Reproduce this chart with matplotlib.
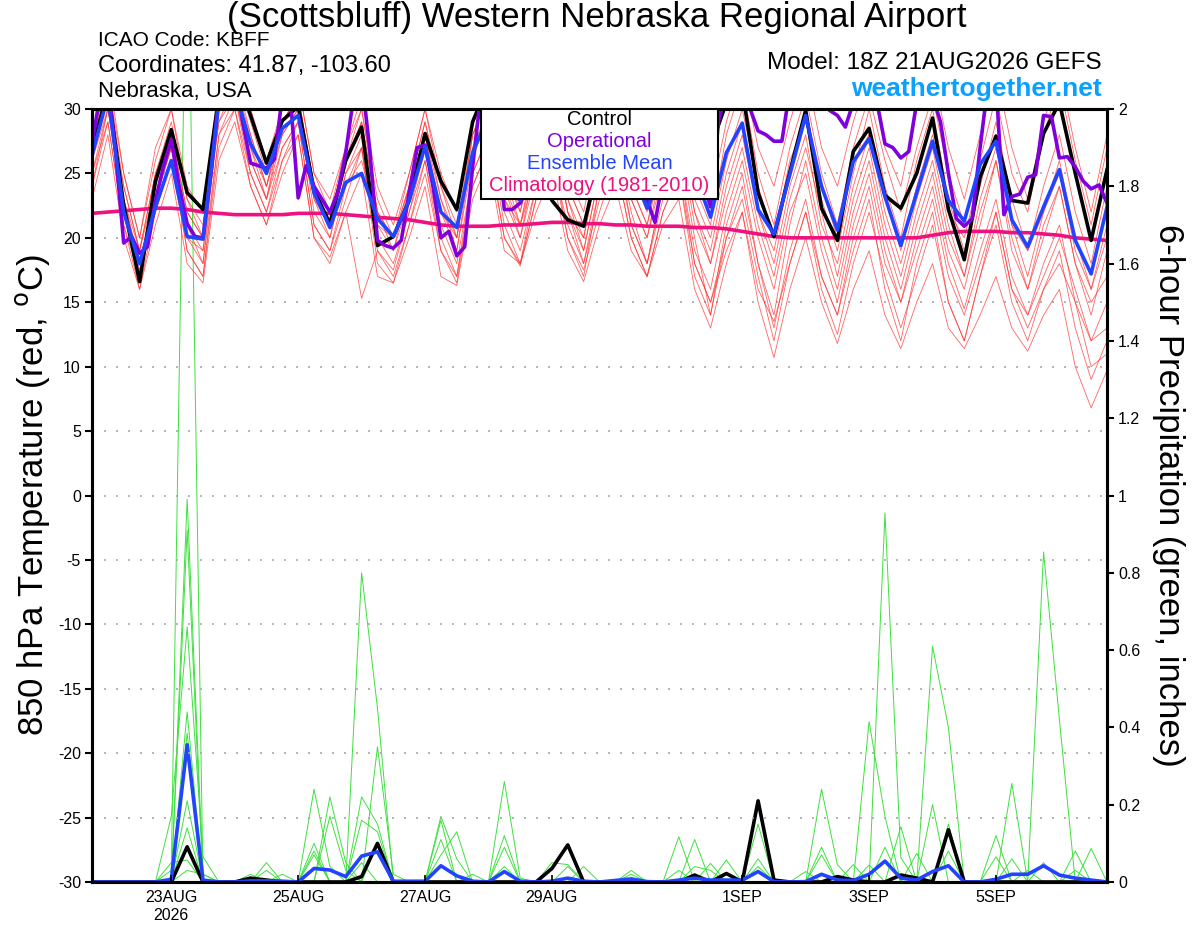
import numpy as np
import pandas as pd
import matplotlib
matplotlib.use("Agg")
import matplotlib.pyplot as plt
from matplotlib.patches import Rectangle

plt.rcParams['font.family'] = ['Liberation Sans', 'DejaVu Sans']
plt.rcParams['axes.unicode_minus'] = False

# 6-hourly forecast steps from the 18Z 21AUG2026 run
times = pd.date_range('2026-08-21 18:00', periods=65, freq='6h')
# operational run is plotted every 3 hours
times_op = pd.date_range('2026-08-21 18:00', periods=129, freq='3h')

tick_dates = ['2026-08-23', '2026-08-25', '2026-08-27', '2026-08-29',
              '2026-09-01', '2026-09-03', '2026-09-05']
tick_labels = ['23AUG\n2026', '25AUG', '27AUG', '29AUG', '1SEP', '3SEP', '5SEP']

# 850 hPa temperature (C)
control = [26.8, 31.5, 22.5, 16.6, 24.4, 28.4, 23.5, 22.2,
           31, 33, 29.5, 25.8, 29.1, 30.2, 23.7, 21.1,
           26.0, 28.6, 19.4, 20.1, 22.9, 28.1, 24.4, 22.2,
           29, 32, 29, 24.5, 26, 22.9, 21.4, 20.9,
           26, 30, 28, 26, 28, 31, 30, 27,
           30.5, 31.5, 23.5, 20.1, 25.1, 29.9, 22.3, 19.8,
           26.7, 28.5, 23.3, 22.3, 25.0, 29.3, 22.2, 18.3,
           24.7, 27.9, 22.9, 22.7, 28.1, 30.5, 25.0, 19.8,
           25.3]

ens_mean = [26.4, 31, 22, 18.0, 22.4, 26.0, 20.1, 19.9,
            30.5, 31.5, 27.3, 25.0, 28.5, 29.5, 23.5, 20.8,
            24.3, 25.0, 21.5, 20.1, 22.9, 27.1, 22.0, 20.8,
            26.6, 29.5, 24, 22.9, 26, 27.5, 25, 23.5,
            26, 28, 25.5, 22.3, 25, 27.5, 25, 21.6,
            26.6, 28.9, 22.2, 20.3, 24.9, 29.5, 24.0, 20.6,
            25.9, 27.7, 23.2, 19.4, 23.5, 27.5, 22.9, 21.3,
            25.7, 27.5, 21.4, 19.3, 22.4, 25.3, 19.8, 17.2,
            22.4]

operational = [27.3, 31, 32, 26.5, 19.6, 20.1, 18.8, 19.3,
               22.9, 25.5, 27.6, 24.0, 21.1, 20.1, 20.0, 25.0,
               31, 32, 33, 29, 25.8, 25.6, 25.4, 26.1,
               31, 31, 23.1, 25.6, 24.0, 23.0, 22.0, 23.5,
               26.6, 31, 32.5, 27, 19.8, 19.4, 19.2, 19.8,
               23.5, 27.0, 27.2, 24.0, 20.0, 20.5, 18.6, 19.3,
               25.5, 31, 32, 28, 22.2, 22.2, 22.7, 24,
               26, 28, 30, 29, 26, 25, 24.5, 25.5,
               28, 30, 31, 30, 27, 24.5, 22.9, 21.2,
               24.5, 28, 30, 29, 27, 24.5, 22.4, 29,
               31.5, 32, 31.5, 30, 28.3, 28, 27.5, 27.5,
               31.5, 32, 32.5, 32, 31, 29.9, 29.5, 28.6,
               30.5, 32, 32, 30.5, 27.3, 27.0, 26.2, 26.7,
               30.5, 32, 31, 29, 25, 21.5, 20.9, 21.5,
               27, 32, 32, 21.8, 23.2, 23.4, 24.7, 24.9,
               29.5, 29.4, 26.2, 26.3, 25.5, 24.4, 23.8, 24.1,
               22.7]

climatology = [21.9, 22.0, 22.1, 22.2, 22.3, 22.3, 22.2, 22.0,
               21.9, 21.8, 21.8, 21.8, 21.8, 21.9, 21.9, 21.9,
               21.8, 21.7, 21.6, 21.5, 21.4, 21.2, 21.0, 20.9,
               20.9, 20.9, 21.0, 21.0, 21.1, 21.2, 21.2, 21.1,
               21.1, 21.0, 21.0, 20.9, 20.9, 20.9, 20.8, 20.8,
               20.7, 20.5, 20.3, 20.1, 20.0, 20.0, 20.0, 20.0,
               20.0, 20.0, 20.0, 20.0, 20.0, 20.2, 20.4, 20.5,
               20.5, 20.5, 20.4, 20.4, 20.3, 20.2, 20.0, 19.9,
               19.8]

members_t = [
    [27, 32, 24, 19, 25, 29, 23, 21, 31, 33, 28, 24, 29, 31, 24, 21,
     26, 30, 22, 20, 24, 29, 24, 21, 28, 31, 26, 22, 27, 30, 24, 21,
     27, 31, 25, 22, 27, 31, 24, 21, 28, 32, 25, 21, 27, 31, 25, 21,
     27, 31, 26, 22, 27, 31, 25, 21, 26, 31, 25, 22, 28, 32, 26, 21, 27],
    [25, 30, 22, 17.5, 23, 27, 21, 19, 29, 32, 27, 23, 28, 30, 22, 20,
     25, 28, 21, 19, 23, 27, 22, 19, 26, 30, 24, 20, 26, 29, 22, 19,
     25, 29, 23, 20, 25, 28, 21, 18, 24, 28, 22, 18, 24, 28, 21, 18,
     24, 28, 22, 18, 23, 27, 21, 17, 23, 27, 21, 17, 22, 26, 20, 16, 20],
    [24, 29, 21, 16, 22, 26, 19, 17, 27, 30, 25, 22, 27, 29, 21, 19,
     24, 27, 19, 17.5, 22, 26, 20, 17, 25, 28, 21, 18, 24, 27, 20, 17,
     24, 27, 21, 18, 23, 26, 19, 16, 22, 26, 20, 16, 22, 25, 19, 15,
     21, 25, 19, 15, 20, 24, 18, 14.5, 19, 23, 17, 14, 18, 21, 15, 12, 15],
    [26, 31, 23, 18, 24, 28, 20, 18, 30, 31, 26, 23, 27, 29, 23, 20,
     25, 27, 18, 16.5, 21, 26, 19, 16.5, 24, 27, 20, 17.8, 23, 26, 21, 18,
     23, 26, 20, 17, 22, 25, 18, 15, 20, 24, 18, 13, 19, 23, 17, 14,
     19, 23, 16, 12, 18, 22, 15, 12, 17, 21, 15, 12, 16, 19, 13, 9, 12],
    [23, 28, 20, 16, 21, 25, 18, 16.5, 26, 29, 24, 21, 25, 28, 20, 18,
     22, 25, 17, 16.5, 20, 24, 17, 16.3, 23, 26, 19, 18, 22, 25, 19, 16.6,
     21, 24, 19, 17, 21, 23, 16, 13, 18, 22, 15, 10.7, 16, 20, 15, 11.8,
     16, 19, 14, 11.4, 15, 18, 13, 11.4, 14, 17, 13, 11.2, 14, 16, 10, 6.8, 9.7],
    [27, 33, 25, 20, 26, 30, 24, 22, 32, 33, 30, 26, 30, 32, 25, 23,
     27, 31, 24, 21, 25, 30, 25, 22, 29, 32, 25, 22, 28, 31, 25, 22,
     28, 32, 26, 23, 28, 32, 26, 23, 29, 33, 27, 24, 29, 33, 27, 24,
     29, 33, 27, 24, 30, 33, 27, 23, 28, 33, 27, 23, 29, 33, 27, 22, 28],
    [26, 31, 22, 18, 22, 26, 20, 19, 30, 32, 27, 24, 28, 30, 23, 21,
     24, 26, 21, 20, 23, 28, 22, 20, 27, 30, 23, 21, 25, 29, 23, 20,
     26, 30, 23, 20, 26, 29, 22, 19, 25, 29, 22, 19, 25, 30, 24, 20,
     26, 28, 23, 19, 24, 28, 22, 20, 25, 28, 21, 19, 22, 25, 19, 16, 21],
    [25, 29, 21, 17, 23, 27, 21, 18, 28, 31, 25, 22, 26, 29, 21, 19,
     23, 27, 20, 18, 22, 27, 21, 18, 25, 28, 22, 19, 24, 28, 22, 18,
     24, 28, 21, 18, 24, 27, 20, 14, 21, 25, 18, 14, 21, 26, 20, 16,
     22, 26, 20, 16, 21, 25, 19, 16, 21, 26, 19, 16, 20, 24, 18, 14, 19],
    [28, 32, 25, 20, 27, 30, 23, 20, 31, 33, 29, 25, 30, 32, 25, 22,
     27, 30, 23, 20, 25, 30, 24, 20, 28, 31, 24, 21, 26, 29, 23, 19,
     25, 28, 22, 18, 24, 26, 18, 15, 19, 22, 16, 13.5, 18, 22, 17, 14,
     20, 24, 18, 15, 19, 23, 17, 14, 18, 22, 16, 14, 17, 20, 16, 12, 13],
    [26, 30, 24, 19, 24, 28, 22, 20, 29, 31, 26, 23, 29, 31, 24, 22,
     26, 29, 22, 19, 24, 28, 23, 19, 27, 29, 23, 20, 25, 28, 22, 20,
     27, 30, 24, 21, 27, 30, 23, 20, 26, 30, 24, 20, 26, 29, 23, 19,
     25, 30, 24, 20, 26, 30, 23, 19, 24, 29, 23, 19, 24, 28, 22, 18, 24],
    [24, 30, 23, 18, 23, 27, 19, 17, 28, 30, 24, 21, 26, 28, 20, 18.5,
     22, 15.3, 19, 17, 21, 25, 19, 17, 24, 27, 20, 18, 23, 26, 20, 17.5,
     22, 26, 20, 17, 22, 25, 17, 14, 20, 23, 17, 12, 18, 22, 16, 12.5,
     18, 22, 17, 13, 17, 21, 15, 12, 17, 22, 16, 13, 16, 18, 15, 10, 11],
    [27, 31, 23, 19, 25, 28, 22, 20, 30, 32, 28, 24, 29, 31, 24, 21,
     26, 29, 22, 20, 24, 29, 23, 20, 28, 31, 25, 21, 27, 30, 24, 21,
     26, 29, 24, 21, 26, 29, 22, 18, 23, 27, 21, 17, 23, 27, 22, 17,
     23, 27, 21, 17, 22, 26, 20, 17, 22, 26, 20, 16, 21, 24, 18, 15, 17],
]

# 6-hour precipitation (inches)
control_p = [0, 0, 0, 0, 0, 0, 0.091, 0,
             0, 0, 0.01, 0.005, 0, 0, 0, 0,
             0, 0.014, 0.10, 0, 0, 0, 0, 0,
             0, 0, 0, 0, 0, 0.035, 0.096, 0,
             0, 0, 0, 0, 0, 0, 0.018, 0,
             0.022, 0, 0.21, 0.005, 0, 0, 0, 0.014,
             0.005, 0, 0, 0.018, 0.01, 0, 0.135, 0,
             0, 0, 0, 0, 0, 0, 0, 0,
             0]

mean_p = [0, 0, 0, 0, 0, 0.007, 0.355, 0.005,
          0, 0, 0.003, 0.003, 0.002, 0, 0.035, 0.031,
          0.014, 0.067, 0.078, 0.002, 0.002, 0.002, 0.042, 0.016,
          0.002, 0, 0.027, 0.002, 0, 0.002, 0.01, 0.002,
          0, 0.004, 0.008, 0.001, 0, 0.005, 0.01, 0.005,
          0.005, 0.005, 0.027, 0.001, 0, 0.001, 0.02, 0.005,
          0.004, 0.02, 0.054, 0.01, 0.005, 0.027, 0.042, 0,
          0, 0.007, 0.02, 0.02, 0.042, 0.018, 0.01, 0.005,
          0]

members_p = [
    [0, 0, 0, 0, 0, 0.03, 2.6, 0, 0, 0, 0, 0, 0, 0, 0, 0,
     0, 0, 0.10, 0, 0, 0, 0, 0, 0, 0, 0.04, 0, 0, 0, 0, 0,
     0, 0, 0, 0, 0, 0, 0, 0, 0, 0, 0.06, 0, 0, 0, 0, 0,
     0, 0, 0.955, 0.063, 0, 0, 0, 0, 0, 0.065, 0, 0, 0, 0, 0, 0, 0],
    [0, 0, 0, 0, 0, 0, 0.99, 0.02, 0, 0, 0, 0, 0, 0, 0.24, 0.04,
     0, 0, 0, 0, 0, 0, 0.17, 0.06, 0, 0, 0, 0, 0, 0, 0, 0,
     0, 0, 0, 0, 0, 0.117, 0, 0, 0, 0, 0, 0, 0, 0, 0, 0,
     0, 0.044, 0, 0, 0, 0.61, 0.40, 0, 0, 0, 0, 0, 0, 0, 0, 0, 0],
    [0, 0, 0, 0, 0, 0, 0.91, 0, 0, 0, 0, 0, 0, 0, 0, 0,
     0, 0.80, 0.45, 0, 0, 0, 0, 0, 0, 0, 0.12, 0, 0, 0, 0, 0,
     0, 0, 0, 0, 0, 0, 0, 0, 0, 0, 0, 0, 0, 0, 0.24, 0.045,
     0, 0, 0, 0, 0, 0, 0, 0, 0, 0, 0, 0, 0.854, 0.42, 0, 0, 0],
    [0, 0, 0, 0, 0, 0.17, 0.66, 0.065, 0, 0, 0, 0, 0, 0, 0, 0.22,
     0.05, 0, 0, 0, 0, 0, 0.11, 0, 0, 0, 0, 0, 0, 0, 0, 0,
     0, 0, 0, 0, 0, 0, 0.11, 0, 0, 0, 0, 0, 0, 0, 0, 0,
     0, 0.415, 0.17, 0, 0, 0, 0, 0, 0, 0, 0.255, 0, 0, 0, 0, 0, 0],
    [0, 0, 0, 0, 0, 0, 0.44, 0, 0, 0, 0, 0, 0, 0, 0.10, 0,
     0, 0.22, 0.15, 0, 0, 0, 0, 0, 0, 0, 0.26, 0.01, 0, 0, 0, 0,
     0, 0, 0, 0, 0, 0, 0, 0, 0, 0, 0.15, 0, 0, 0, 0, 0,
     0, 0, 0, 0, 0, 0, 0.15, 0, 0, 0, 0, 0, 0, 0, 0.08, 0, 0],
    [0, 0, 0, 0, 0, 0, 0.385, 0, 0, 0, 0, 0.05, 0, 0, 0, 0.17,
     0.03, 0, 0, 0, 0, 0, 0.07, 0.13, 0, 0, 0, 0, 0, 0, 0, 0,
     0, 0, 0, 0, 0, 0, 0, 0, 0.057, 0, 0, 0, 0, 0, 0.09, 0,
     0, 0, 0, 0.143, 0, 0, 0, 0, 0, 0, 0, 0, 0, 0, 0, 0.087, 0],
    [0, 0, 0, 0, 0, 0, 0.21, 0, 0, 0, 0, 0, 0, 0, 0.08, 0,
     0, 0.16, 0.13, 0, 0, 0, 0, 0, 0, 0, 0, 0, 0, 0.05, 0.045, 0,
     0, 0, 0, 0, 0, 0, 0, 0.048, 0, 0, 0, 0, 0, 0, 0, 0,
     0, 0, 0.09, 0, 0.074, 0, 0, 0, 0, 0.12, 0, 0, 0, 0, 0, 0, 0],
    [0, 0, 0, 0, 0, 0, 0.14, 0, 0, 0, 0.02, 0, 0, 0, 0.07, 0,
     0, 0, 0.35, 0.02, 0, 0, 0, 0, 0, 0, 0.09, 0, 0, 0, 0, 0,
     0, 0, 0.03, 0, 0, 0, 0, 0, 0, 0, 0.04, 0, 0, 0, 0.07, 0,
     0.045, 0, 0, 0, 0, 0, 0.08, 0, 0, 0, 0, 0.03, 0, 0, 0, 0, 0],
    [0, 0, 0, 0, 0, 0.05, 0.057, 0, 0, 0, 0, 0, 0.02, 0, 0, 0,
     0, 0.05, 0, 0, 0, 0, 0.16, 0, 0, 0, 0, 0, 0, 0, 0, 0.04,
     0, 0, 0, 0, 0, 0, 0.04, 0.03, 0, 0, 0.025, 0, 0, 0.027, 0, 0,
     0, 0, 0, 0, 0, 0, 0, 0, 0, 0, 0.06, 0, 0.05, 0, 0, 0, 0],
    [0, 0, 0, 0, 0, 0, 0.03, 0.02, 0, 0, 0, 0.03, 0, 0, 0, 0,
     0, 0, 0, 0, 0, 0, 0, 0, 0.02, 0, 0, 0, 0, 0, 0.04, 0,
     0, 0, 0.02, 0, 0, 0.03, 0, 0, 0, 0, 0, 0, 0, 0, 0, 0,
     0, 0, 0, 0, 0, 0.2, 0, 0, 0, 0, 0, 0, 0, 0, 0.03, 0, 0],
]

W, H = 1200, 927
fig = plt.figure(figsize=(W / 100, H / 100), dpi=100)
ax = fig.add_axes([92 / W, 45 / H, 1015 / W, 773 / H])
ax2 = ax.twinx()
ax.set_zorder(ax2.get_zorder() + 1)
ax.patch.set_visible(False)

# precipitation (right axis)
for m in members_p:
    ax2.plot(times, m, color='#3ee03e', lw=0.7)
ax2.plot(times, control_p, color='black', lw=2.6)
ax2.plot(times, mean_p, color='#2244ff', lw=2.6)

# temperature (left axis)
for m in members_t:
    ax.plot(times, m, color='#ff3030', lw=0.6, alpha=0.75)
ax.plot(times, climatology, color='#ee1180', lw=2.6)
ax.plot(times, control, color='black', lw=2.6)
ax.plot(times_op, operational, color='#8000dd', lw=2.6)
ax.plot(times, ens_mean, color='#2244ff', lw=2.6)

ax.set_xlim(times[0], times[-1])
ax.set_ylim(-30, 30)
ax2.set_ylim(0, 2)

ax.set_yticks(range(-30, 31, 5))
ax.yaxis.grid(True, linestyle=(0, (1.2, 6)), color='#a8a8a8', lw=1.2)
ax2.set_yticks(np.arange(0, 2.01, 0.2))
ax2.set_yticklabels(['%g' % round(v, 1) for v in np.arange(0, 2.01, 0.2)])

ax.set_xticks(pd.to_datetime(tick_dates))
ax.set_xticklabels(tick_labels)
ax.tick_params(axis='x', direction='in', length=5, width=1.2, labelsize=11.5, pad=6)
ax.tick_params(axis='y', direction='out', length=5, width=1.5, labelsize=11.5, pad=3)
ax2.tick_params(axis='y', direction='out', length=5, width=1.5, labelsize=11.5, pad=3)
for a in (ax, ax2):
    for s in a.spines.values():
        s.set_linewidth(2.2)

fig.text(33 / W, 1 - 495 / H, r'850 hPa Temperature (red, $^{\mathrm{o}}$C)',
         fontsize=25, rotation=90, ha='center', va='center')
fig.text(1168 / W, 1 - 495 / H, '6-hour Precipitation (green, inches)',
         fontsize=25, rotation=-90, ha='center', va='center')

# legend box
ax.add_patch(Rectangle((0.383, 0.884), 0.234, 0.116, transform=ax.transAxes,
                       facecolor='white', edgecolor='black', lw=1.5, zorder=10))
leg_rows = [('Control', 'black'), ('Operational', '#8000dd'),
            ('Ensemble Mean', '#2244ff'), ('Climatology (1981-2010)', '#ee1180')]
for k, (txt, col) in enumerate(leg_rows):
    ax.text(0.5, 0.986 - k * 0.0282, txt, color=col, fontsize=14.5,
            ha='center', va='center', transform=ax.transAxes, zorder=11)

fig.text(597 / W, 1 - 18 / H, '(Scottsbluff) Western Nebraska Regional Airport',
         fontsize=25, ha='center', va='center')
fig.text(98 / W, 1 - 40 / H, 'ICAO Code: KBFF', fontsize=15, va='center')
fig.text(98 / W, 1 - 66 / H, 'Coordinates: 41.87, -103.60', fontsize=17, va='center')
fig.text(98 / W, 1 - 92 / H, 'Nebraska, USA', fontsize=16, va='center')
fig.text(1102 / W, 1 - 63 / H, 'Model: 18Z 21AUG2026 GEFS', fontsize=17.5,
         ha='right', va='center')
fig.text(1102 / W, 1 - 89 / H, 'weathertogether.net', fontsize=19, weight='bold',
         color='#0aa0ff', ha='right', va='center')

fig.savefig('out.png', dpi=100)
